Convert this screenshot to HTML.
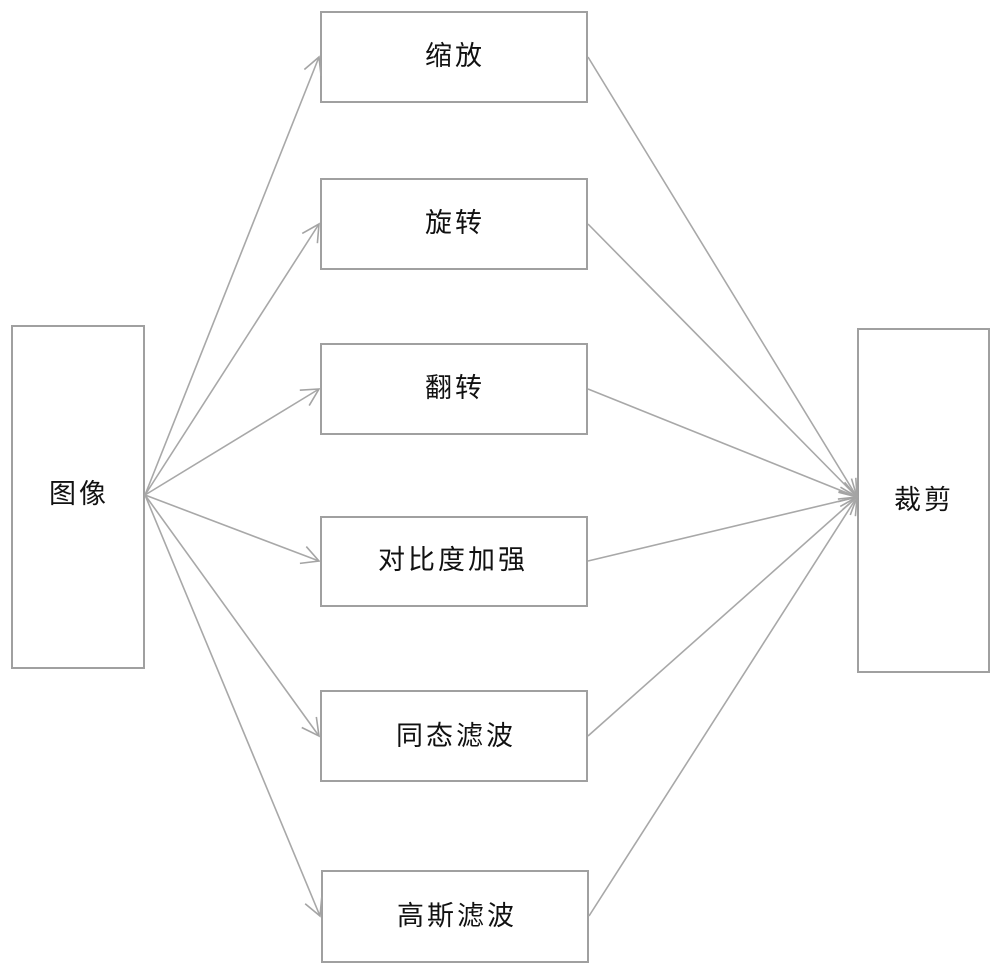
<!DOCTYPE html>
<html><head><meta charset="utf-8"><style>
html,body{margin:0;padding:0;background:#fff;}
svg{display:block;}
text{font-family:"Liberation Sans","Noto Sans CJK SC",sans-serif;font-size:27px;fill:#111;letter-spacing:3px;}
</style></head><body>
<svg width="1000" height="972" viewBox="0 0 1000 972" xmlns="http://www.w3.org/2000/svg">
<defs>
<marker id="a" markerUnits="userSpaceOnUse" markerWidth="22" markerHeight="22" refX="18" refY="10" orient="auto">
<path d="M1,1 L18,10 L1,19" fill="none" stroke="#a4a4a4" stroke-width="1.6"/>
</marker>
</defs>
<g fill="#fff" stroke="#a0a0a0" stroke-width="2">
<rect x="12" y="326" width="132" height="342"/>
<rect x="321" y="12" width="266" height="90"/>
<rect x="321" y="179" width="266" height="90"/>
<rect x="321" y="344" width="266" height="90"/>
<rect x="321" y="517" width="266" height="89"/>
<rect x="321" y="691" width="266" height="90"/>
<rect x="322" y="871" width="266" height="91"/>
<rect x="858" y="329" width="131" height="343"/>
</g>
<g stroke="#a8a8a8" stroke-width="1.6" fill="none" marker-end="url(#a)">
<line x1="145" y1="495" x2="319" y2="57"/>
<line x1="145" y1="495" x2="319" y2="224"/>
<line x1="145" y1="495" x2="319" y2="389"/>
<line x1="145" y1="495" x2="319" y2="561"/>
<line x1="145" y1="495" x2="319" y2="736"/>
<line x1="145" y1="495" x2="320" y2="916"/>
<line x1="588" y1="57" x2="857" y2="497"/>
<line x1="588" y1="224" x2="857" y2="497"/>
<line x1="588" y1="389" x2="857" y2="497"/>
<line x1="588" y1="561" x2="857" y2="497"/>
<line x1="588" y1="736" x2="857" y2="497"/>
<line x1="589" y1="916" x2="857" y2="497"/>
</g>
<g text-anchor="middle" dominant-baseline="central">
<text x="79" y="494">图像</text>
<text x="455" y="56">缩放</text>
<text x="455" y="223">旋转</text>
<text x="455" y="388">翻转</text>
<text x="453" y="560">对比度加强</text>
<text x="456" y="736">同态滤波</text>
<text x="457" y="916">高斯滤波</text>
<text x="924" y="500">裁剪</text>
</g>
</svg>
</body></html>
